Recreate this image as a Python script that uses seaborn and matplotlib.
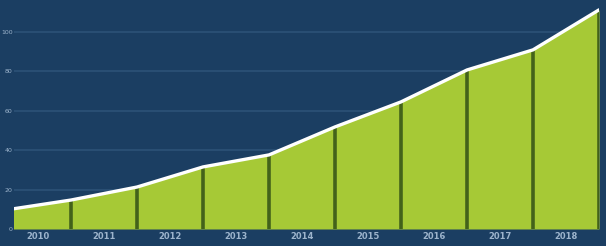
import matplotlib
matplotlib.use("Agg")
import matplotlib.pyplot as plt
import seaborn as sns
import numpy as np
import pandas as pd

# data: values at the segment boundaries, labels per segment
boundary_pos = [0, 1, 2, 3, 4, 5, 6, 7, 8, 9]
boundary_vals = [9.6, 14.7, 21.3, 31.5, 37.6, 51.8, 64.5, 80.7, 90.9, 111.2]
categories = ["2010", "2011", "2012", "2013", "2014", "2015", "2016", "2017", "2018"]
ytick_vals = [0, 20, 40, 60, 80, 100]
ytick_labels = ["0", "20", "40", "60", "80", "100"]

bg = "#1b3e62"
lime = "#a6c936"
dark = "#43621a"
grid_c = "#2d5277"
txt_c = "#9db4cc"

sns.set_theme(style="white")
fig = plt.figure(figsize=(6.06, 2.46), dpi=100)
fig.patch.set_facecolor(bg)
ax = fig.add_axes([14/606, 17/246, 585/606, 229/246])
ax.set_facecolor(bg)

df = pd.DataFrame({"x": boundary_pos, "y": boundary_vals})

ax.set_xlim(0.136, 9)
ax.set_ylim(0, 116.2)

for t in ytick_vals[1:]:
    ax.axhline(t, color=grid_c, lw=1.2, zorder=0)

ax.fill_between(df["x"], 0, df["y"], color=lime, lw=0, zorder=1)
ax.vlines(df["x"][1:], 0, df["y"][1:], color=dark, lw=2.6, zorder=2)
sns.lineplot(data=df, x="x", y="y", ax=ax, color="white", lw=2.4, zorder=3)

ax.set_xticks([p + 0.5 for p in boundary_pos[:-1]])
ax.set_xticklabels(categories, color=txt_c, fontsize=6, fontweight="bold")
ax.set_yticks(ytick_vals)
ax.set_yticklabels(ytick_labels, color=txt_c, fontsize=4.5)
ax.tick_params(axis="x", length=0, pad=2.5)
ax.tick_params(axis="y", length=0, pad=1)
ax.set_xlabel("")
ax.set_ylabel("")
for s in ax.spines.values():
    s.set_visible(False)

fig.savefig("out.png", dpi=100, facecolor=bg)
